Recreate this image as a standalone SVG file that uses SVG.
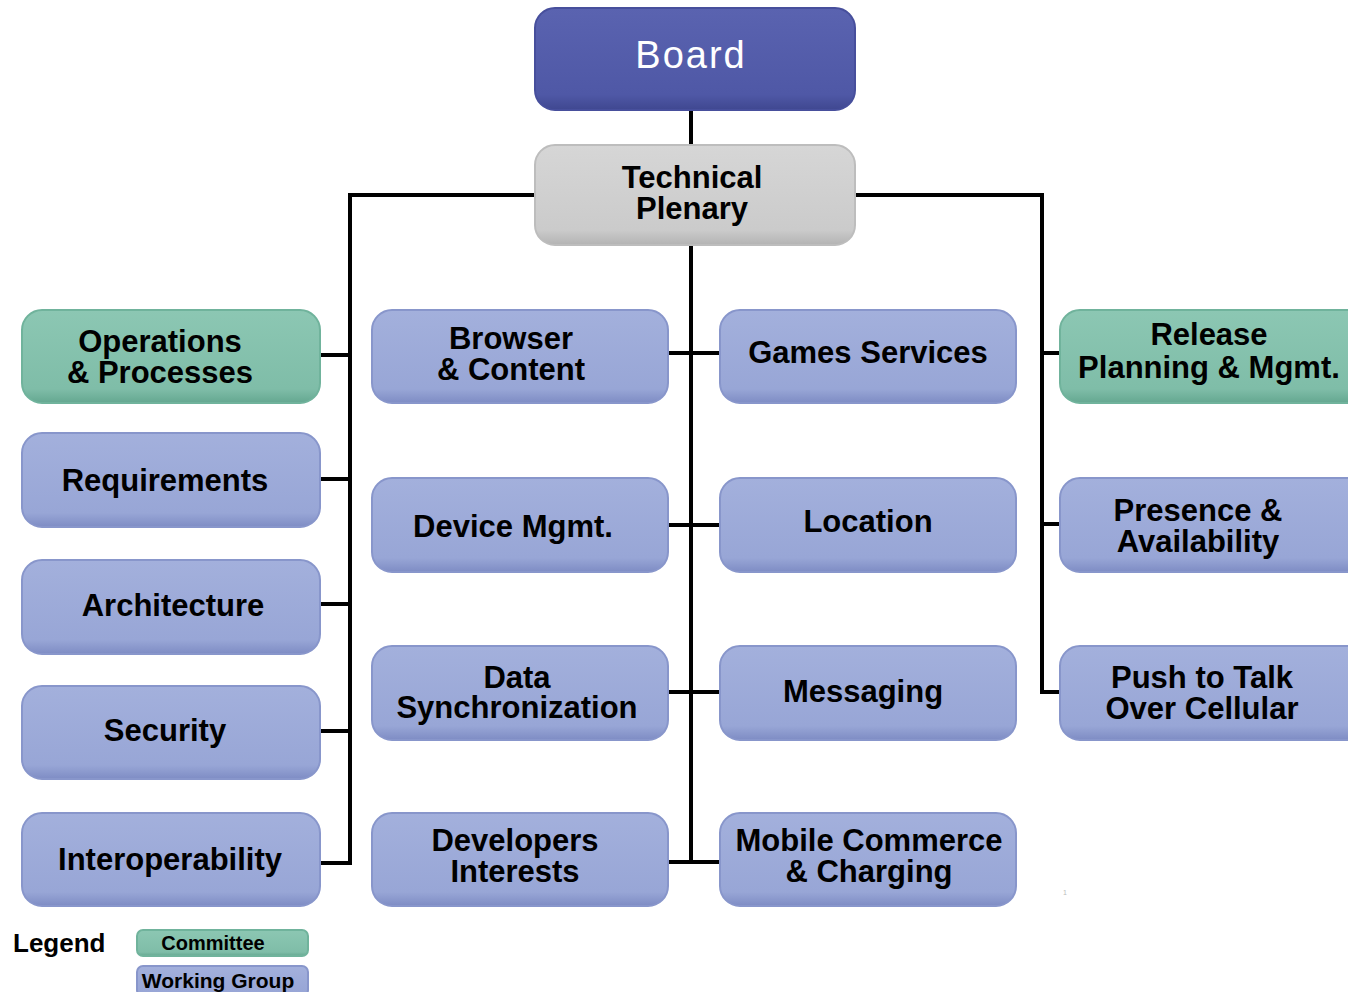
<svg xmlns="http://www.w3.org/2000/svg" width="1348" height="992" viewBox="0 0 1348 992">
<defs>
<linearGradient id="gBlue" x1="0" y1="0" x2="0" y2="1">
<stop offset="0" stop-color="#a3b0dc"/><stop offset="0.85" stop-color="#98a6d6"/><stop offset="1" stop-color="#7e8cc4"/>
</linearGradient>
<linearGradient id="gGreen" x1="0" y1="0" x2="0" y2="1">
<stop offset="0" stop-color="#8cc7b3"/><stop offset="0.85" stop-color="#7fbda8"/><stop offset="1" stop-color="#64a790"/>
</linearGradient>
<linearGradient id="gGray" x1="0" y1="0" x2="0" y2="1">
<stop offset="0" stop-color="#d6d6d6"/><stop offset="0.85" stop-color="#cbcbcb"/><stop offset="1" stop-color="#b3b3b3"/>
</linearGradient>
<linearGradient id="gBoard" x1="0" y1="0" x2="0" y2="1">
<stop offset="0" stop-color="#5a63b0"/><stop offset="0.85" stop-color="#4f58a6"/><stop offset="1" stop-color="#3f4790"/>
</linearGradient>
</defs>
<style>
.wg{fill:url(#gBlue);stroke:#8896cb;stroke-width:2}
.cm{fill:url(#gGreen);stroke:#70b39c;stroke-width:2}
.t{font-family:"Liberation Sans",Arial,sans-serif;font-weight:bold;font-size:31px;fill:#000;text-anchor:middle}
.lg{font-family:"Liberation Sans",Arial,sans-serif;font-weight:bold;fill:#000}
.ln{stroke:#000;stroke-width:4;fill:none}
</style>
<rect width="1348" height="992" fill="#ffffff"/>
<g id="connectors">
<path class="ln" d="M691 110V145M691 245V862M668 862H720M668 353H720M668 525H720M668 692H720"/>
<path class="ln" d="M535 195H350V863H320M320 355H350M320 479H350M320 604H350M320 731H350"/>
<path class="ln" d="M855 195H1042V692H1060M1042 353H1060M1042 524H1060"/>
</g>
<g id="board"><rect x="535" y="8" width="320" height="102" rx="20" fill="url(#gBoard)" stroke="#474f9c" stroke-width="2"/><text x="691" y="68" font-family="'Liberation Sans',Arial,sans-serif" font-size="38" letter-spacing="2" fill="#ffffff" text-anchor="middle">Board</text></g>
<g id="plenary"><rect x="535" y="145" width="320" height="100" rx="20" fill="url(#gGray)" stroke="#bdbdbd" stroke-width="2"/><text class="t" x="692" y="188">Technical</text><text class="t" x="692" y="219">Plenary</text></g>
<g id="ops"><rect class="cm" x="22" y="310" width="298" height="93" rx="20"/><text class="t" x="160" y="352">Operations</text><text class="t" x="160" y="383">&amp; Processes</text></g>
<g id="req"><rect class="wg" x="22" y="433" width="298" height="94" rx="20"/><text class="t" x="165" y="491">Requirements</text></g>
<g id="arch"><rect class="wg" x="22" y="560" width="298" height="94" rx="20"/><text class="t" x="173" y="616">Architecture</text></g>
<g id="sec"><rect class="wg" x="22" y="686" width="298" height="93" rx="20"/><text class="t" x="165" y="741">Security</text></g>
<g id="interop"><rect class="wg" x="22" y="813" width="298" height="93" rx="20"/><text class="t" x="170" y="870">Interoperability</text></g>
<g id="browser"><rect class="wg" x="372" y="310" width="296" height="93" rx="20"/><text class="t" x="511" y="349">Browser</text><text class="t" x="511" y="380">&amp; Content</text></g>
<g id="device"><rect class="wg" x="372" y="478" width="296" height="94" rx="20"/><text class="t" x="513" y="537">Device Mgmt.</text></g>
<g id="datasync"><rect class="wg" x="372" y="646" width="296" height="94" rx="20"/><text class="t" x="517" y="688">Data</text><text class="t" x="517" y="718">Synchronization</text></g>
<g id="dev"><rect class="wg" x="372" y="813" width="296" height="93" rx="20"/><text class="t" x="515" y="851">Developers</text><text class="t" x="515" y="882">Interests</text></g>
<g id="games"><rect class="wg" x="720" y="310" width="296" height="93" rx="20"/><text class="t" x="868" y="363">Games Services</text></g>
<g id="loc"><rect class="wg" x="720" y="478" width="296" height="94" rx="20"/><text class="t" x="868" y="532">Location</text></g>
<g id="msg"><rect class="wg" x="720" y="646" width="296" height="94" rx="20"/><text class="t" x="863" y="702">Messaging</text></g>
<g id="mcc"><rect class="wg" x="720" y="813" width="296" height="93" rx="20"/><text class="t" x="869" y="851">Mobile Commerce</text><text class="t" x="869" y="882">&amp; Charging</text></g>
<g id="release"><rect class="cm" x="1060" y="310" width="310" height="93" rx="20"/><text class="t" x="1209" y="345">Release</text><text class="t" x="1209" y="378">Planning &amp; Mgmt.</text></g>
<g id="presence"><rect class="wg" x="1060" y="478" width="310" height="94" rx="20"/><text class="t" x="1198" y="521">Presence &amp;</text><text class="t" x="1198" y="552">Availability</text></g>
<g id="ptt"><rect class="wg" x="1060" y="646" width="310" height="94" rx="20"/><text class="t" x="1202" y="688">Push to Talk</text><text class="t" x="1202" y="719">Over Cellular</text></g>
<text x="1063" y="895" font-family="'Liberation Sans',Arial,sans-serif" font-size="7" fill="#bbbbbb">1</text>
<g id="legend">
<text class="lg" x="13" y="952" font-size="26">Legend</text>
<rect class="cm" x="137" y="930" width="171" height="26" rx="6"/>
<text class="lg" x="213" y="950" font-size="20" text-anchor="middle">Committee</text>
<rect class="wg" x="137" y="966" width="171" height="30" rx="6"/>
<text class="lg" x="218" y="988" font-size="21" text-anchor="middle">Working Group</text>
</g>
</svg>
